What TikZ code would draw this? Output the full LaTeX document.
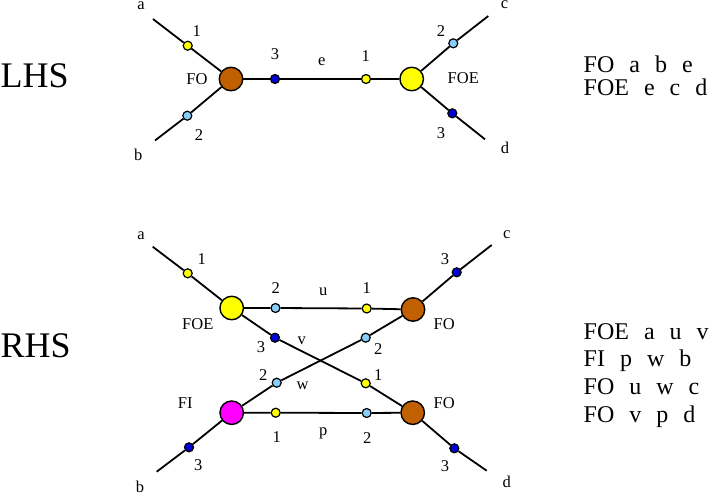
\documentclass[tikz,border=0pt]{standalone}
\usepackage{fontspec}
\setmainfont{Liberation Serif}
\definecolor{brownc}{RGB}{192,96,0}
\definecolor{yellowc}{RGB}{255,255,0}
\definecolor{magentac}{RGB}{255,0,255}
\definecolor{lbluec}{RGB}{135,206,250}
\definecolor{bluec}{RGB}{0,0,210}
\newcommand\rgap{\hspace{15pt}}
\begin{document}
\begin{tikzpicture}[x=1pt,y=-1pt,
 big/.style={circle,draw=black,line width=1.4pt,minimum size=23.5pt,inner sep=0pt},
 small/.style={circle,draw=black,line width=1.2pt,minimum size=9pt,inner sep=0pt},
 edgeln/.style={line width=1.8pt},
 lbl/.style={anchor=base,inner sep=0pt,font=\fontsize{16.5}{18}\selectfont},
 side/.style={anchor=base west,inner sep=0pt,font=\fontsize{36}{40}\selectfont},
 rulet/.style={anchor=base west,inner sep=0pt,font=\fontsize{24}{28}\selectfont}]
\useasboundingbox (0,0) rectangle (720,493);
% ---------------- LHS ----------------
\node[side] (lhs) at (0.5,87.7) {LHS};
\node[big,fill=brownc] (lFO) at (231,79) {};
\node[big,fill=yellowc] (lFOE) at (411.7,79) {};
\coordinate (la) at (153,19);
\coordinate (lb) at (155,140.5);
\coordinate (lc) at (488.3,16);
\coordinate (ld) at (485,139.3);
\node[small,fill=yellowc] (la1) at (187.7,45.7) {};
\node[small,fill=lbluec] (lb2) at (187.3,115.7) {};
\node[small,fill=bluec] (le3) at (275,79) {};
\node[small,fill=yellowc] (le1) at (366,79) {};
\node[small,fill=lbluec] (lc2) at (453.3,43.3) {};
\node[small,fill=bluec] (ld3) at (452.3,113.3) {};
\draw[edgeln] (la) -- (la1) -- (lFO);
\draw[edgeln] (lb) -- (lb2) -- (lFO);
\draw[edgeln] (lFO) -- (le3) -- (le1) -- (lFOE);
\draw[edgeln] (lc) -- (lc2) -- (lFOE);
\draw[edgeln] (ld) -- (ld3) -- (lFOE);
\node[lbl] (tla) at (141,9.5) {a};
\node[lbl] (tlb) at (138.3,160.7) {b};
\node[lbl] (tlc) at (504.5,8.3) {c};
\node[lbl] (tld) at (505,153.3) {d};
\node[lbl] (tl1) at (196.7,36) {1};
\node[lbl] (tl2) at (199,140.7) {2};
\node[lbl] (tlFO) at (197,84) {FO};
\node[lbl] (tl3) at (275,59.3) {3};
\node[lbl] (tle) at (321.7,65) {e};
\node[lbl] (tl1b) at (365.7,61) {1};
\node[lbl] (tl2b) at (441,36) {2};
\node[lbl] (tlFOE) at (463.3,83.3) {FOE};
\node[lbl] (tl3b) at (441,138.3) {3};
\node[rulet] (r1) at (583.5,72.7) {FO\rgap a\rgap b\rgap e};
\node[rulet] (r2) at (583.5,95.7) {FOE\rgap e\rgap c\rgap d};
% ---------------- RHS ----------------
\node[side] (rhs) at (0.5,357.7) {RHS};
\node[big,fill=yellowc] (rFOE) at (231.7,308) {};
\node[big,fill=brownc] (rFOt) at (413,309.5) {};
\node[big,fill=magentac] (rFI) at (231.7,412.7) {};
\node[big,fill=brownc] (rFOb) at (412.7,412.7) {};
\coordinate (ra) at (152.7,246.7);
\coordinate (rb) at (156.7,471.7);
\coordinate (rc) at (491.7,245);
\coordinate (rd) at (486.7,470.7);
\node[small,fill=yellowc] (ra1) at (187.7,273.3) {};
\node[small,fill=bluec] (rb3) at (189,447.3) {};
\node[small,fill=bluec] (rc3) at (456.7,272.3) {};
\node[small,fill=bluec] (rd3) at (454.3,448.3) {};
\node[small,fill=lbluec] (ru2) at (275.5,308) {};
\node[small,fill=yellowc] (ru1) at (366.7,308.5) {};
\node[small,fill=bluec] (rv3) at (275,337.7) {};
\node[small,fill=yellowc] (rv1) at (365.7,383.3) {};
\node[small,fill=lbluec] (rw2) at (276.7,382.7) {};
\node[small,fill=lbluec] (rw2b) at (365.7,337.7) {};
\node[small,fill=yellowc] (rp1) at (275.7,412.7) {};
\node[small,fill=lbluec] (rp2) at (366.7,413) {};
\draw[edgeln] (ra) -- (ra1) -- (rFOE);
\draw[edgeln] (rb) -- (rb3) -- (rFI);
\draw[edgeln] (rc) -- (rc3) -- (rFOt);
\draw[edgeln] (rd) -- (rd3) -- (rFOb);
\draw[edgeln] (rFOE) -- (ru2) -- (ru1) -- (rFOt);
\draw[edgeln] (rFOE) -- (rv3) -- (rv1) -- (rFOb);
\draw[edgeln] (rFI) -- (rw2) -- (rw2b) -- (rFOt);
\draw[edgeln] (rFI) -- (rp1) -- (rp2) -- (rFOb);
\node[lbl] (tra) at (141,239.3) {a};
\node[lbl] (trb) at (140,492.3) {b};
\node[lbl] (trc) at (506.7,238.3) {c};
\node[lbl] (trd) at (506.7,487.5) {d};
\node[lbl] (tr1) at (201.7,264.3) {1};
\node[lbl] (tr3) at (445,264.3) {3};
\node[lbl] (tru2) at (275.7,293.3) {2};
\node[lbl] (tru) at (323.3,295) {u};
\node[lbl] (tru1) at (366.7,293.3) {1};
\node[lbl] (trFOE) at (197.8,329) {FOE};
\node[lbl] (trFOt) at (444.2,329) {FO};
\node[lbl] (trv3) at (261,352.7) {3};
\node[lbl] (trv) at (301.7,344) {v};
\node[lbl] (trw2b) at (378.3,354.3) {2};
\node[lbl] (trw2) at (263.3,380) {2};
\node[lbl] (trw) at (302.7,389) {w};
\node[lbl] (trv1) at (378.3,380) {1};
\node[lbl] (trFI) at (185.3,408.3) {FI};
\node[lbl] (trFOb) at (444.2,408.3) {FO};
\node[lbl] (trp1) at (276.7,442.3) {1};
\node[lbl] (trp) at (323.3,435.5) {p};
\node[lbl] (trp2) at (367.3,443.3) {2};
\node[lbl] (trb3) at (198.3,470.7) {3};
\node[lbl] (trd3) at (445,471.7) {3};
\node[rulet] (s1) at (583.5,339.3) {FOE\rgap a\rgap u\rgap v};
\node[rulet] (s2) at (583.5,366) {FI\rgap p\rgap w\rgap b};
\node[rulet] (s3) at (583.5,394) {FO\rgap u\rgap w\rgap c};
\node[rulet] (s4) at (583.5,422.3) {FO\rgap v\rgap p\rgap d};
\end{tikzpicture}
\end{document}
